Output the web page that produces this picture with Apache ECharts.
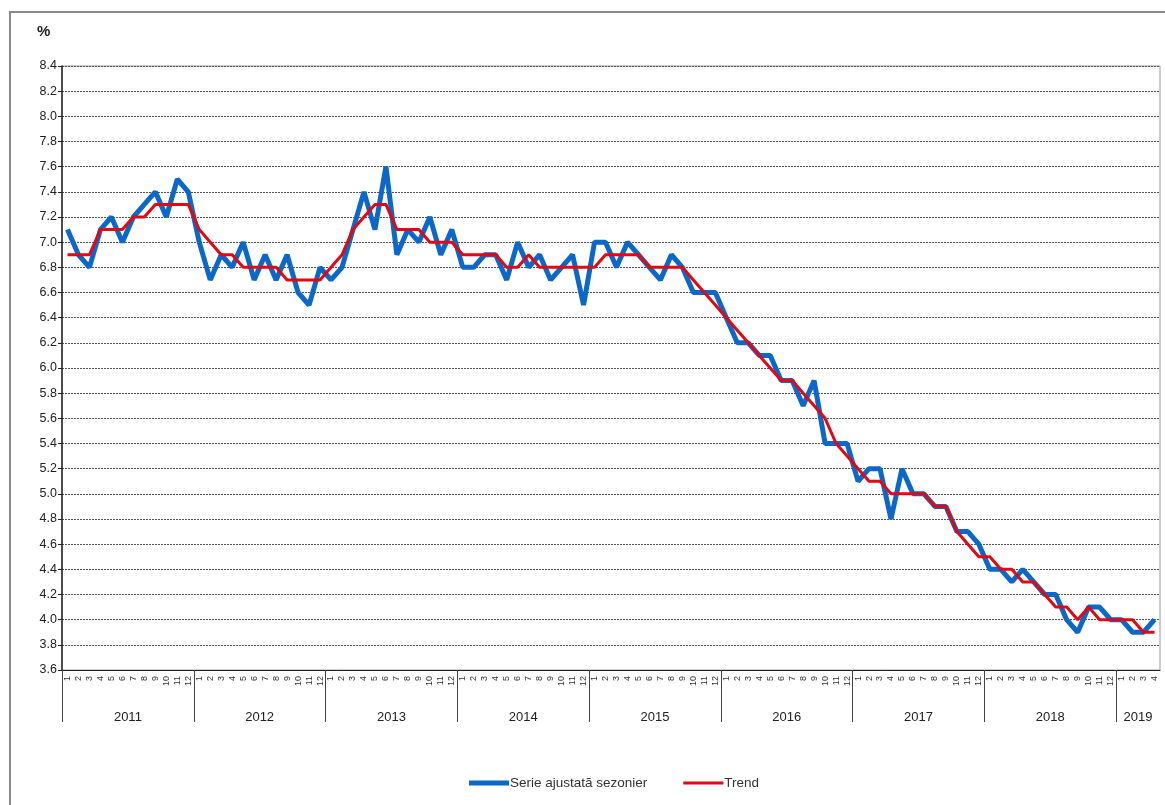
<!DOCTYPE html>
<html>
<head>
<meta charset="utf-8">
<script src="https://cdn.jsdelivr.net/npm/echarts@6/dist/echarts.min.js"></script>
<style>
  html, body { margin: 0; padding: 0; background: #fff; }
  #frame { position: absolute; left: 9px; top: 11px; width: 1160px; height: 800px;
           border-left: 2px solid #8a8a8a; border-top: 2px solid #8a8a8a; box-sizing: border-box; }
  #chart { position: absolute; left: 0; top: 0; width: 1165px; height: 805px; }
</style>
</head>
<body>
<div id="frame"></div>
<div id="chart"></div>
<script>
// ---- data ----
const years = ['2011', '2012', '2013', '2014', '2015', '2016', '2017', '2018', '2019'];
const monthsPerYear = [12, 12, 12, 12, 12, 12, 12, 12, 4];
const monthLabels = ['1', '2', '3', '4', '5', '6', '7', '8', '9', '10', '11', '12'];

const serieAjustata = [
  7.1, 6.9, 6.8, 7.1, 7.2, 7.0, 7.2, 7.3, 7.4, 7.2, 7.5, 7.4,
  7.0, 6.7, 6.9, 6.8, 7.0, 6.7, 6.9, 6.7, 6.9, 6.6, 6.5, 6.8,
  6.7, 6.8, 7.1, 7.4, 7.1, 7.6, 6.9, 7.1, 7.0, 7.2, 6.9, 7.1,
  6.8, 6.8, 6.9, 6.9, 6.7, 7.0, 6.8, 6.9, 6.7, 6.8, 6.9, 6.5,
  7.0, 7.0, 6.8, 7.0, 6.9, 6.8, 6.7, 6.9, 6.8, 6.6, 6.6, 6.6,
  6.4, 6.2, 6.2, 6.1, 6.1, 5.9, 5.9, 5.7, 5.9, 5.4, 5.4, 5.4,
  5.1, 5.2, 5.2, 4.8, 5.2, 5.0, 5.0, 4.9, 4.9, 4.7, 4.7, 4.6,
  4.4, 4.4, 4.3, 4.4, 4.3, 4.2, 4.2, 4.0, 3.9, 4.1, 4.1, 4.0,
  4.0, 3.9, 3.9, 4.0
];
const trend = [
  6.9, 6.9, 6.9, 7.1, 7.1, 7.1, 7.2, 7.2, 7.3, 7.3, 7.3, 7.3,
  7.1, 7.0, 6.9, 6.9, 6.8, 6.8, 6.8, 6.8, 6.7, 6.7, 6.7, 6.7,
  6.8, 6.9, 7.1, 7.2, 7.3, 7.3, 7.1, 7.1, 7.1, 7.0, 7.0, 7.0,
  6.9, 6.9, 6.9, 6.9, 6.8, 6.8, 6.9, 6.8, 6.8, 6.8, 6.8, 6.8,
  6.8, 6.9, 6.9, 6.9, 6.9, 6.8, 6.8, 6.8, 6.8, 6.7, 6.6, 6.5,
  6.4, 6.3, 6.2, 6.1, 6.0, 5.9, 5.9, 5.8, 5.7, 5.6, 5.4, 5.3,
  5.2, 5.1, 5.1, 5.0, 5.0, 5.0, 5.0, 4.9, 4.9, 4.7, 4.6, 4.5,
  4.5, 4.4, 4.4, 4.3, 4.3, 4.2, 4.1, 4.1, 4.0, 4.1, 4.0, 4.0,
  4.0, 4.0, 3.9, 3.9
];
const yTicks = { min: 3.6, max: 8.4, step: 0.2 };

// ---- derived ----
const categories = [];
const yearStarts = [];
const yearCenters = [];
let idx = 0;
years.forEach((y, k) => {
  yearStarts.push(idx);
  yearCenters.push(idx + monthsPerYear[k] / 2);
  for (let m = 0; m < monthsPerYear[k]; m++) categories.push(monthLabels[m]);
  idx += monthsPerYear[k];
});
const totalMonths = idx;

const chart = echarts.init(document.getElementById('chart'));
const FONT = 'Liberation Sans, Arial, sans-serif';
const BLUE = '#0B67C9';
const RED = '#E30613';

chart.setOption({
  animation: false,
  title: {
    text: '%', left: 32, top: 19,
    textStyle: { fontFamily: FONT, fontSize: 15, fontWeight: 'bold', color: '#222' }
  },
  grid: { left: 62, right: 5, top: 66, bottom: 135, show: true, borderColor: '#9a9a9a', borderWidth: 1 },
  legend: {
    left: 464, top: 771, itemGap: 36, itemWidth: 40, itemHeight: 5,
    textStyle: { fontFamily: FONT, fontSize: 13.5, color: '#333', padding: [0, 0, 0, -4] },
    data: [
      { name: 'Serie ajustată sezonier', icon: 'path://M0,0L40,0L40,5L0,5Z', itemStyle: { color: BLUE } },
      { name: 'Trend', icon: 'path://M0,0L40,0L40,3L0,3Z', itemStyle: { color: RED } }
    ]
  },
  xAxis: [
    {
      type: 'category', data: categories, boundaryGap: true,
      axisLine: { lineStyle: { color: '#222', width: 1 } },
      axisTick: { interval: 0, length: 22, lineStyle: { color: '#555' } },
      axisLabel: { interval: 0, rotate: 90, fontSize: 9, margin: 6, color: '#333', fontFamily: FONT },
      splitLine: { show: false }
    },
    {
      type: 'value', min: 0, max: totalMonths, position: 'bottom',
      axisLine: { show: false },
      axisTick: { show: true, customValues: yearStarts, length: 52, lineStyle: { color: '#444' } },
      axisLabel: {
        customValues: yearCenters, margin: 41, fontSize: 13, color: '#222', fontFamily: FONT,
        formatter: v => years[yearCenters.indexOf(v)] || ''
      },
      splitLine: { show: false }
    }
  ],
  yAxis: {
    type: 'value', min: yTicks.min, max: yTicks.max, interval: yTicks.step,
    axisLine: { show: true, lineStyle: { color: '#222', width: 1.5 } },
    axisTick: { show: true, length: 4, lineStyle: { color: '#222' } },
    axisLabel: { fontSize: 12.5, color: '#222', margin: 5, fontFamily: FONT, formatter: v => v.toFixed(1) },
    splitLine: { show: true, lineStyle: { color: '#555', type: [2, 1], width: 1 } }
  },
  series: [
    {
      name: 'Serie ajustată sezonier', type: 'line', data: serieAjustata, xAxisIndex: 0,
      symbol: 'none', lineStyle: { color: BLUE, width: 5 }, itemStyle: { color: BLUE }, z: 2
    },
    {
      name: 'Trend', type: 'line', data: trend, xAxisIndex: 0,
      symbol: 'none', lineStyle: { color: RED, width: 3 }, itemStyle: { color: RED }, z: 3
    }
  ]
});
</script>
</body>
</html>
